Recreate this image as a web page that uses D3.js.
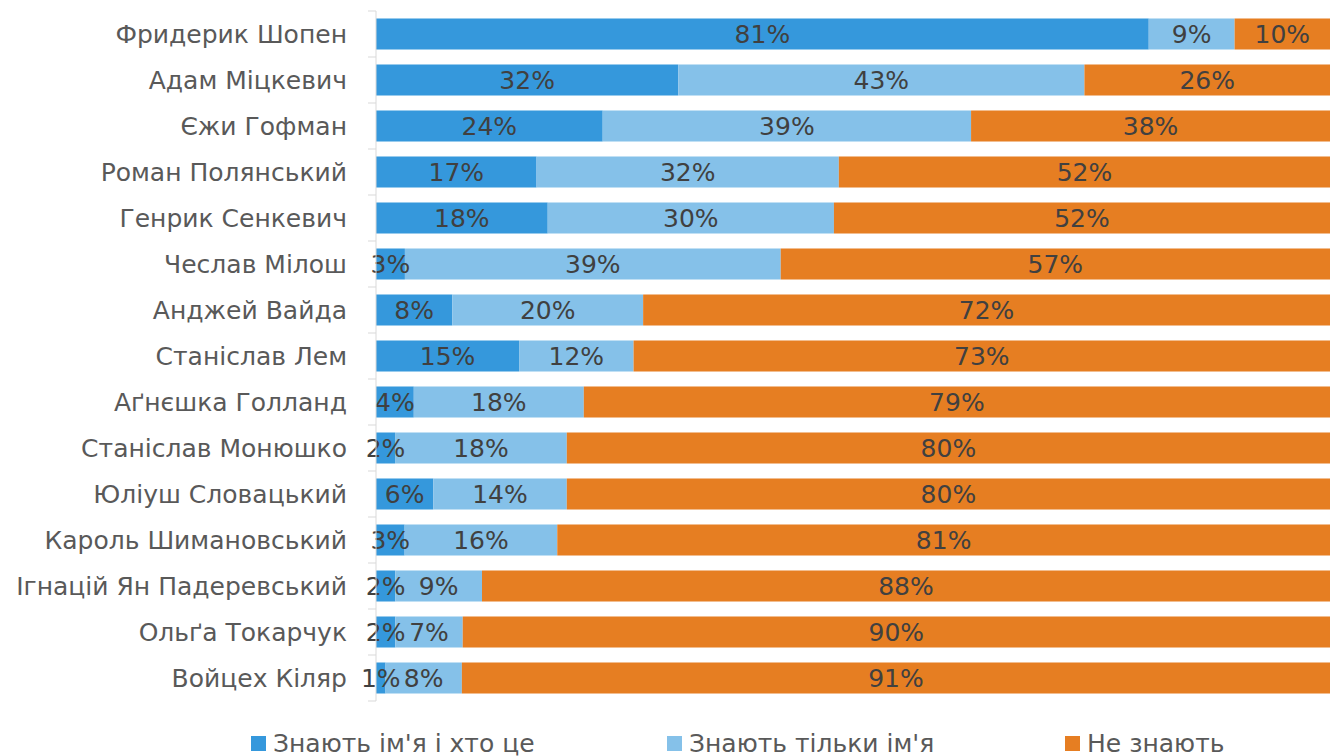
<!DOCTYPE html>
<html>
<head>
<meta charset="utf-8">
<script src="https://cdn.jsdelivr.net/npm/d3@7"></script>
<style>
  body { margin: 0; background: #fff; }
  svg { display: block; font-family: "DejaVu Sans", sans-serif; }
</style>
</head>
<body>
<div class="display"></div>
<script>
const names = [
    'Фридерик Шопен', 'Адам Міцкевич', 'Єжи Гофман', 'Роман Полянський', 'Генрик Сенкевич',
    'Чеслав Мілош', 'Анджей Вайда', 'Станіслав Лем', 'Аґнєшка Голланд', 'Станіслав Монюшко',
    'Юліуш Словацький', 'Кароль Шимановський', 'Ігнацій Ян Падеревський', 'Ольґа Токарчук', 'Войцех Кіляр'
];
const knowWho = [81, 32, 24, 17, 18, 3, 8, 15, 4, 2, 6, 3, 2, 2, 1];
const nameOnly = [9, 43, 39, 32, 30, 39, 20, 12, 18, 18, 14, 16, 9, 7, 8];
const dontKnow = [10, 26, 38, 52, 52, 57, 72, 73, 79, 80, 80, 81, 88, 90, 91];
const seriesNames = ['Знають ім\'я і хто це', 'Знають тільки ім\'я', 'Не знають'];
const colors = ['#3598dc', '#85c1e9', '#e67e22'];

const width = 1330;
const height = 756;
const fontSize = 25;

const keys = ['s0', 's1', 's2'];
const rows = names.map((n, i) => ({name: n, s0: knowWho[i], s1: nameOnly[i], s2: dontKnow[i]}));
// 100% stacked, rows that round to 99 or 101 still fill the width
const stacked = d3.stack().keys(keys).offset(d3.stackOffsetExpand)(rows);

const x = d3.scaleLinear().domain([0, 1]).range([376, 1330]);
const y = d3.scaleBand().domain(names).range([11, 701]).paddingInner(0.326).paddingOuter(0.163);

const svg = d3.select('.display')
    .append('svg')
    .attr('width', width)
    .attr('height', height);

// bars
const layers = svg.append('g')
    .selectAll('g')
    .data(stacked)
    .enter()
    .append('g')
    .attr('fill', (d, i) => colors[i]);

layers.selectAll('rect')
    .data(d => d)
    .enter()
    .append('rect')
    .attr('x', d => x(d[0]))
    .attr('y', d => y(d.data.name))
    .attr('width', d => x(d[1]) - x(d[0]))
    .attr('height', y.bandwidth());

// value labels
svg.append('g')
    .selectAll('g')
    .data(stacked)
    .enter()
    .append('g')
    .selectAll('text')
    .data(d => d.map(v => ({v, key: d.key})))
    .enter()
    .append('text')
    .attr('x', d => x((d.v[0] + d.v[1]) / 2))
    .attr('y', d => y(d.v.data.name) + y.bandwidth() / 2)
    .attr('text-anchor', 'middle')
    .attr('dominant-baseline', 'central')
    .attr('font-size', fontSize)
    .attr('fill', '#404040')
    .text(d => `${d.v.data[d.key]}%`);

// category axis
const axis = svg.append('g');
const step = y.step();
const [y0, y1] = y.range();
axis.append('line')
    .attr('x1', x(0)).attr('x2', x(0))
    .attr('y1', y0).attr('y2', y1)
    .attr('stroke', '#d9d9d9');
axis.selectAll('.tick')
    .data(d3.range(names.length + 1))
    .enter()
    .append('line')
    .attr('x1', x(0) - 8).attr('x2', x(0))
    .attr('y1', i => y0 + i * step).attr('y2', i => y0 + i * step)
    .attr('stroke', '#d9d9d9');
axis.selectAll('text')
    .data(names)
    .enter()
    .append('text')
    .attr('x', x(0) - 29)
    .attr('y', d => y(d) + y.bandwidth() / 2)
    .attr('text-anchor', 'end')
    .attr('dominant-baseline', 'central')
    .attr('font-size', fontSize)
    .attr('fill', '#595959')
    .text(d => d);

// legend
const legendX = [251, 667, 1065];
const legend = svg.append('g').attr('id', 'legend');
legend.selectAll('rect')
    .data(seriesNames)
    .enter()
    .append('rect')
    .attr('x', (d, i) => legendX[i])
    .attr('y', 736)
    .attr('width', 15)
    .attr('height', 15)
    .attr('fill', (d, i) => colors[i]);
legend.selectAll('text')
    .data(seriesNames)
    .enter()
    .append('text')
    .attr('x', (d, i) => legendX[i] + 22)
    .attr('y', 743)
    .attr('dominant-baseline', 'central')
    .attr('font-size', fontSize)
    .attr('fill', '#595959')
    .text(d => d);
</script>
</body>
</html>
